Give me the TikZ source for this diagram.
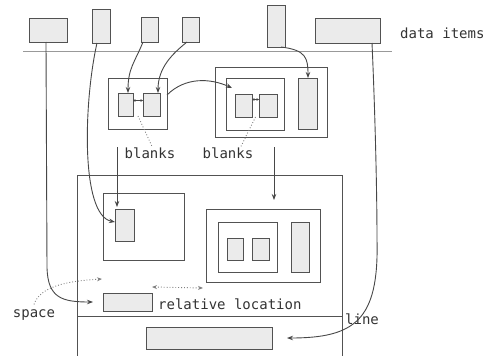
\documentclass[tikz,border=0pt]{standalone}
\usepackage{fontspec}
\setmonofont{DejaVu Sans Mono}
\usetikzlibrary{arrows.meta,calc}
\newcommand{\pbox}[6]{\node[#2, minimum width={#5-#3}, minimum height={#6-#4}] (#1) at ({(#3+#5)/2},{(#4+#6)/2}) {};}
\begin{document}
\begin{tikzpicture}[x=1pt,y=-1pt,
 ln/.style={draw=black!68, line width=1pt},
 item/.style={ln, fill=black!8, inner sep=0pt, outer sep=0pt},
 frame/.style={ln, fill=none, inner sep=0pt, outer sep=0pt},
 arr/.style={draw=black!72, line width=0.9pt, -{Stealth[length=6pt,width=4.5pt]}},
 mini/.style={draw=black!72, line width=0.7pt, {Stealth[length=2.5pt,width=2.5pt]}-{Stealth[length=2.5pt,width=2.5pt]}},
 dots/.style={draw=black!50, line width=0.9pt, dotted},
 dotarr/.style={dots, -{Stealth[length=5pt,width=4pt]}},
 dotdbl/.style={dots, {Stealth[length=5pt,width=4pt]}-{Stealth[length=5pt,width=4pt]}},
 lbl/.style={font=\ttfamily\fontsize{14}{14}\selectfont, text=black!80, inner sep=0pt},
]
\useasboundingbox (0,0) rectangle (493,356);
\clip (0,0) rectangle (493,356);

% data items
\pbox{d1}{item}{29}{18}{67}{42}
\pbox{d2}{item}{92}{9}{110}{43}
\pbox{d3}{item}{141}{17}{158}{42}
\pbox{d4}{item}{182}{17}{199}{42}
\pbox{d5}{item}{267}{5}{285}{47}
\pbox{d6}{item}{315}{18}{380}{43}
\coordinate (hl) at (23,51);
\coordinate (hr) at (392,51);
\draw[draw=black!40, line width=0.8pt] (hl) -- (hr);
\node[lbl, anchor=west] (dtext) at (400,33) {data items};

% group 1
\pbox{g1}{frame}{108}{78}{167}{129}
\pbox{a}{item}{118}{93}{133}{116}
\pbox{b}{item}{143}{93}{160}{116}
\draw[mini] ([yshift=4pt]a.east) -- ([yshift=4pt]b.west);

% group 2
\pbox{g2}{frame}{215}{67}{327}{137}
\pbox{g2i}{frame}{226}{78}{284}{130}
\pbox{c}{item}{235}{94}{252}{117}
\pbox{dd}{item}{259}{94}{277}{117}
\pbox{e}{item}{298}{78}{317}{129}
\draw[mini] ([yshift=6pt]c.east) -- ([yshift=6pt]dd.west);

% blanks labels
\node[lbl] (bl1) at (150,153) {blanks};
\node[lbl] (bl2) at (228,153) {blanks};
\coordinate (gap1) at ($(a.south east)!0.5!(b.south west)$);
\coordinate (gap2) at ($(c.south east)!0.5!(dd.south west)$);
\draw[dots] (gap1) -- ([xshift=2pt,yshift=1pt]bl1.north);
\draw[dots] (gap2) -- ([xshift=13pt,yshift=1pt]bl2.north);

% big box
\pbox{big}{frame}{77}{175}{342}{380}
\coordinate (dvl) at (77,316);
\coordinate (dvr) at (342,316);
\draw[ln] (dvl) -- (dvr);
\pbox{f}{frame}{103}{193}{184}{260}
\pbox{g}{item}{115}{209}{134}{241}
\pbox{h}{frame}{206}{209}{320}{282}
\pbox{hi}{frame}{218}{222}{277}{272}
\pbox{s1}{item}{227}{238}{243}{260}
\pbox{s2}{item}{252}{238}{269}{260}
\pbox{t}{item}{291}{222}{309}{272}
\pbox{rl}{item}{103}{293}{152}{311}
\pbox{j}{item}{146}{327}{272}{349}
\node[lbl, anchor=west] (rltext) at (158,304) {relative location};
\node[lbl] (sp) at (34,315) {space};
\node[lbl] (lntext) at (362,319) {line};

% connectors
\draw[arr] ([xshift=-6.5pt]d3.south) .. controls +(-8,20) and +(0,-25) .. ([xshift=2.5pt]a.north);
\draw[arr] ([xshift=-3.5pt]d4.south) .. controls +(-15,12) and +(0,-25) .. ([xshift=6.5pt]b.north);
\draw[arr] ([yshift=8.5pt]g1.east) .. controls +(18,-18) and +(-22,-10) .. ([xshift=6pt,yshift=-10pt]g2i.north west);
\draw[arr] ([xshift=5pt]d5.south) .. controls +(25,3) and +(0,-20) .. ([xshift=0.5pt]e.north);
\draw[arr] ([xshift=-4pt]d2.south) .. controls +(-13,57) and +(-35,-7) .. ([yshift=3pt]g.west);
\coordinate (v1) at (117,147);
\draw[arr, shorten >=2pt] (v1) -- (v1 |- g.north);
\coordinate (v2) at (274,147);
\draw[arr, shorten >=9pt] (v2) -- (v2 |- h.north);
\coordinate (b1) at (47,268);
\draw[arr] ([xshift=-2pt]d1.south) -- (b1) .. controls (48,298) and (62,302) .. ([xshift=-10pt]rl.west);
\coordinate (b2) at (377,240);
\draw[arr] ([xshift=24.5pt]d6.south) .. controls (375,110) and (377,190) .. (b2) .. controls (379,320) and (355,338) .. ([xshift=15pt]j.east);
\coordinate (spt) at (102,279);
\draw[dotarr] ([yshift=5pt]sp.north) .. controls +(6,-18) and +(-35,2) .. (spt);
\coordinate (rla) at (152,287);
\coordinate (rlb) at (203,288);
\draw[dotdbl] (rla) -- (rlb);
\end{tikzpicture}
\end{document}
